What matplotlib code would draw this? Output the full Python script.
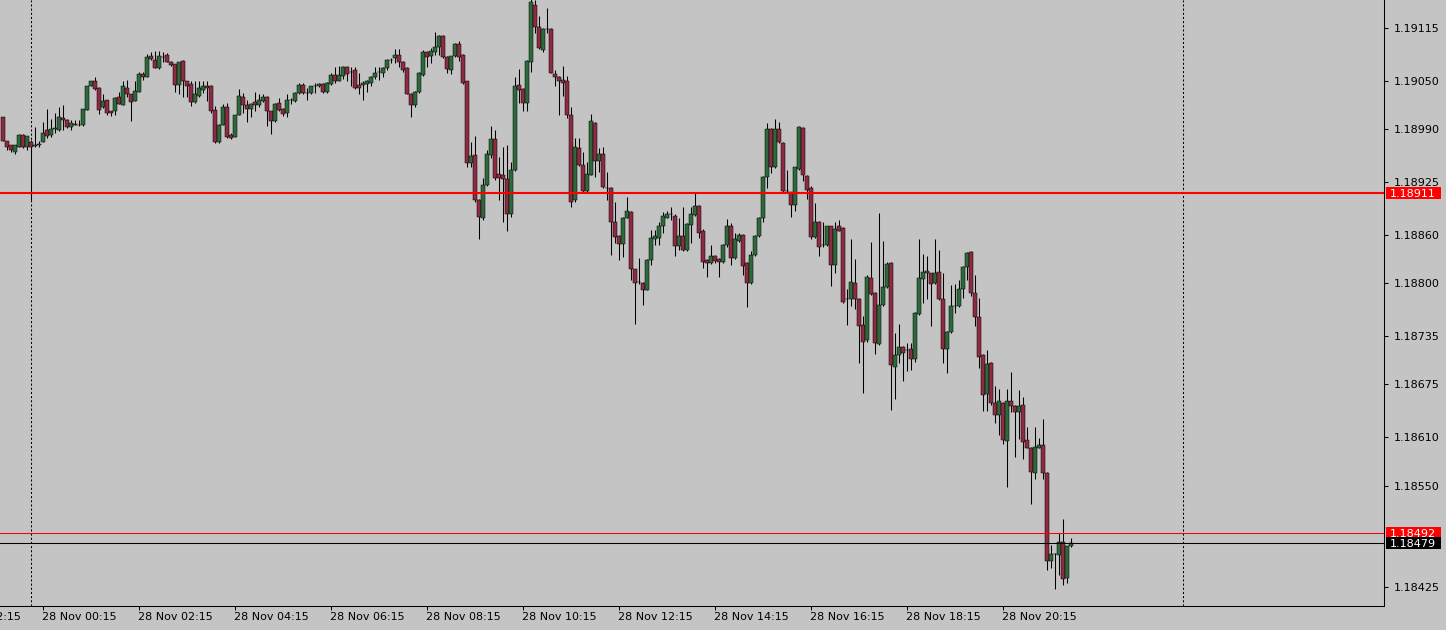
import numpy as np
import pandas as pd
import matplotlib
matplotlib.use("Agg")
import matplotlib.pyplot as plt
import matplotlib.transforms as mtransforms
from matplotlib.patches import Rectangle

BG = "#C4C4C4"
BULL = "#2C6A3C"
BEAR = "#8E2A42"
FONT = "DejaVu Sans"

# EURUSD M5, first bar 27 Nov 23:25
FIRST_BAR = pd.Timestamp("2017-11-27 23:25")
BAR_MINUTES = 5

OPEN = [
    1.19005, 1.18976, 1.18970, 1.18962, 1.18968, 1.18983, 1.18968, 1.18974, 1.18969, 1.18970,
    1.18974, 1.18989, 1.18983, 1.18990, 1.18989, 1.19004, 1.19002, 1.18993, 1.18997, 1.18995,
    1.18995, 1.19014, 1.19043, 1.19049, 1.19041, 1.19017, 1.19026, 1.19013, 1.19013, 1.19030,
    1.19020, 1.19041, 1.19033, 1.19025, 1.19036, 1.19058, 1.19054, 1.19080, 1.19076, 1.19066,
    1.19079, 1.19082, 1.19073, 1.19071, 1.19045, 1.19074, 1.19049, 1.19046, 1.19024, 1.19031,
    1.19039, 1.19044, 1.19044, 1.19014, 1.18974, 1.18995, 1.19017, 1.18983, 1.18981, 1.19008,
    1.19030, 1.19020, 1.19015, 1.19024, 1.19020, 1.19025, 1.19030, 1.19012, 1.19000, 1.19022,
    1.19015, 1.19010, 1.19026, 1.19025, 1.19035, 1.19045, 1.19035, 1.19035, 1.19043, 1.19043,
    1.19046, 1.19036, 1.19046, 1.19057, 1.19050, 1.19056, 1.19067, 1.19061, 1.19063, 1.19045,
    1.19045, 1.19046, 1.19047, 1.19055, 1.19061, 1.19060, 1.19066, 1.19076, 1.19078, 1.19082,
    1.19073, 1.19066, 1.19034, 1.19020, 1.19036, 1.19057, 1.19086, 1.19080, 1.19086, 1.19092,
    1.19105, 1.19079, 1.19063, 1.19080, 1.19095, 1.19082, 1.19049, 1.18948, 1.18958, 1.18903,
    1.18881, 1.18921, 1.18958, 1.18978, 1.18935, 1.18934, 1.18929, 1.18885, 1.18940, 1.19045,
    1.19040, 1.19023, 1.19073, 1.19144, 1.19116, 1.19088, 1.19114, 1.19114, 1.19058, 1.19054,
    1.19051, 1.19049, 1.19008, 1.18903, 1.18967, 1.18946, 1.18914, 1.18934, 1.18998, 1.18951,
    1.18960, 1.18917, 1.18918, 1.18875, 1.18858, 1.18848, 1.18881, 1.18888, 1.18817, 1.18801,
    1.18800, 1.18792, 1.18829, 1.18855, 1.18856, 1.18870, 1.18881, 1.18885, 1.18883, 1.18846,
    1.18858, 1.18841, 1.18872, 1.18884, 1.18895, 1.18864, 1.18829, 1.18825, 1.18834, 1.18830,
    1.18826, 1.18847, 1.18871, 1.18831, 1.18852, 1.18860, 1.18825, 1.18800, 1.18835, 1.18858,
    1.18880, 1.18931, 1.18990, 1.18943, 1.18990, 1.18973, 1.18914, 1.18912, 1.18897, 1.18941,
    1.18992, 1.18932, 1.18917, 1.18857, 1.18876, 1.18847, 1.18847, 1.18870, 1.18823, 1.18870,
    1.18868, 1.18781, 1.18780, 1.18800, 1.18781, 1.18748, 1.18730, 1.18806, 1.18788, 1.18725,
    1.18773, 1.18795, 1.18825, 1.18697, 1.18711, 1.18721, 1.18718, 1.18719, 1.18707, 1.18762,
    1.18805, 1.18815, 1.18812, 1.18800, 1.18814, 1.18781, 1.18719, 1.18740, 1.18772, 1.18772,
    1.18793, 1.18820, 1.18839, 1.18788, 1.18758, 1.18711, 1.18663, 1.18702, 1.18652, 1.18637,
    1.18652, 1.18605, 1.18655, 1.18649, 1.18641, 1.18650, 1.18607, 1.18597, 1.18566, 1.18597,
    1.18600, 1.18566, 1.18457, 1.18466, 1.18465, 1.18481, 1.18436, 1.18475,
]
HIGH = [
    1.19005, 1.18976, 1.18971, 1.18970, 1.18984, 1.18984, 1.18982, 1.18977, 1.18993, 1.18975,
    1.18999, 1.19015, 1.19003, 1.19010, 1.19018, 1.19020, 1.19003, 1.19001, 1.19001, 1.19001,
    1.19015, 1.19043, 1.19050, 1.19054, 1.19042, 1.19033, 1.19026, 1.19013, 1.19030, 1.19036,
    1.19050, 1.19051, 1.19034, 1.19049, 1.19061, 1.19061, 1.19083, 1.19086, 1.19087, 1.19087,
    1.19086, 1.19084, 1.19074, 1.19071, 1.19073, 1.19076, 1.19050, 1.19050, 1.19050, 1.19049,
    1.19049, 1.19049, 1.19045, 1.19019, 1.18996, 1.19021, 1.19022, 1.18985, 1.19008, 1.19040,
    1.19035, 1.19026, 1.19022, 1.19036, 1.19033, 1.19033, 1.19031, 1.19013, 1.19022, 1.19029,
    1.19016, 1.19033, 1.19029, 1.19036, 1.19047, 1.19047, 1.19041, 1.19044, 1.19047, 1.19047,
    1.19047, 1.19048, 1.19059, 1.19067, 1.19068, 1.19068, 1.19068, 1.19067, 1.19067, 1.19059,
    1.19049, 1.19051, 1.19056, 1.19067, 1.19067, 1.19067, 1.19077, 1.19078, 1.19089, 1.19089,
    1.19074, 1.19067, 1.19035, 1.19037, 1.19061, 1.19088, 1.19087, 1.19090, 1.19110, 1.19106,
    1.19106, 1.19080, 1.19081, 1.19096, 1.19099, 1.19083, 1.19050, 1.18974, 1.18982, 1.18904,
    1.18930, 1.18964, 1.18994, 1.18989, 1.18956, 1.18968, 1.18971, 1.18949, 1.19054, 1.19064,
    1.19041, 1.19075, 1.19152, 1.19150, 1.19130, 1.19115, 1.19140, 1.19115, 1.19063, 1.19056,
    1.19068, 1.19056, 1.19017, 1.18979, 1.18979, 1.18962, 1.18949, 1.19009, 1.18999, 1.18967,
    1.18968, 1.18937, 1.18919, 1.18900, 1.18859, 1.18882, 1.18906, 1.18889, 1.18818, 1.18831,
    1.18801, 1.18830, 1.18866, 1.18866, 1.18876, 1.18888, 1.18889, 1.18894, 1.18886, 1.18881,
    1.18894, 1.18874, 1.18894, 1.18912, 1.18896, 1.18867, 1.18830, 1.18847, 1.18835, 1.18831,
    1.18848, 1.18879, 1.18874, 1.18862, 1.18862, 1.18861, 1.18826, 1.18840, 1.18859, 1.18882,
    1.18932, 1.18998, 1.18991, 1.19003, 1.18999, 1.18974, 1.18940, 1.18913, 1.18944, 1.18994,
    1.18993, 1.18933, 1.18920, 1.18899, 1.18877, 1.18875, 1.18871, 1.18871, 1.18875, 1.18878,
    1.18869, 1.18793, 1.18855, 1.18830, 1.18782, 1.18760, 1.18810, 1.18851, 1.18789, 1.18887,
    1.18852, 1.18826, 1.18826, 1.18739, 1.18750, 1.18722, 1.18726, 1.18726, 1.18764, 1.18855,
    1.18836, 1.18834, 1.18813, 1.18855, 1.18841, 1.18812, 1.18741, 1.18798, 1.18799, 1.18804,
    1.18821, 1.18838, 1.18840, 1.18810, 1.18782, 1.18712, 1.18718, 1.18703, 1.18673, 1.18670,
    1.18653, 1.18670, 1.18690, 1.18650, 1.18668, 1.18660, 1.18623, 1.18598, 1.18623, 1.18609,
    1.18632, 1.18567, 1.18477, 1.18467, 1.18492, 1.18509, 1.18476, 1.18486,
]
LOW = [
    1.18975, 1.18964, 1.18962, 1.18960, 1.18968, 1.18967, 1.18964, 1.18903, 1.18968, 1.18968,
    1.18974, 1.18979, 1.18980, 1.18985, 1.18988, 1.18989, 1.18992, 1.18989, 1.18995, 1.18994,
    1.18994, 1.19014, 1.19043, 1.19039, 1.19009, 1.19016, 1.19008, 1.19006, 1.19008, 1.19021,
    1.19020, 1.19030, 1.19000, 1.19025, 1.19036, 1.19051, 1.19054, 1.19076, 1.19066, 1.19065,
    1.19073, 1.19073, 1.19068, 1.19036, 1.19034, 1.19030, 1.19030, 1.19019, 1.19023, 1.19030,
    1.19035, 1.19025, 1.19010, 1.18973, 1.18973, 1.18995, 1.18979, 1.18978, 1.18980, 1.19008,
    1.19010, 1.18999, 1.19005, 1.19012, 1.19017, 1.19024, 1.18994, 1.18984, 1.18999, 1.19013,
    1.19006, 1.19005, 1.19021, 1.19024, 1.19034, 1.19033, 1.19026, 1.19034, 1.19035, 1.19042,
    1.19035, 1.19035, 1.19045, 1.19047, 1.19049, 1.19052, 1.19050, 1.19043, 1.19040, 1.19033,
    1.19026, 1.19036, 1.19044, 1.19052, 1.19051, 1.19055, 1.19063, 1.19072, 1.19072, 1.19067,
    1.19061, 1.19033, 1.19005, 1.19017, 1.19035, 1.19056, 1.19067, 1.19072, 1.19082, 1.19082,
    1.19078, 1.19060, 1.19058, 1.19079, 1.19074, 1.19046, 1.18943, 1.18943, 1.18900, 1.18855,
    1.18878, 1.18920, 1.18955, 1.18927, 1.18903, 1.18875, 1.18864, 1.18882, 1.18939, 1.19023,
    1.19012, 1.19012, 1.19061, 1.19109, 1.19089, 1.19085, 1.19109, 1.19059, 1.19044, 1.19008,
    1.19031, 1.19004, 1.18894, 1.18900, 1.18945, 1.18913, 1.18913, 1.18933, 1.18931, 1.18937,
    1.18918, 1.18903, 1.18835, 1.18850, 1.18829, 1.18832, 1.18880, 1.18804, 1.18750, 1.18799,
    1.18773, 1.18791, 1.18823, 1.18847, 1.18847, 1.18862, 1.18880, 1.18878, 1.18834, 1.18841,
    1.18840, 1.18840, 1.18850, 1.18883, 1.18856, 1.18819, 1.18808, 1.18824, 1.18825, 1.18808,
    1.18825, 1.18845, 1.18823, 1.18830, 1.18851, 1.18810, 1.18771, 1.18799, 1.18834, 1.18857,
    1.18875, 1.18918, 1.18936, 1.18942, 1.18973, 1.18913, 1.18912, 1.18882, 1.18889, 1.18940,
    1.18926, 1.18904, 1.18854, 1.18856, 1.18834, 1.18845, 1.18846, 1.18797, 1.18813, 1.18864,
    1.18775, 1.18749, 1.18772, 1.18768, 1.18702, 1.18665, 1.18728, 1.18786, 1.18713, 1.18724,
    1.18772, 1.18794, 1.18644, 1.18657, 1.18702, 1.18679, 1.18692, 1.18693, 1.18703, 1.18761,
    1.18776, 1.18780, 1.18747, 1.18799, 1.18779, 1.18702, 1.18689, 1.18739, 1.18763, 1.18771,
    1.18782, 1.18804, 1.18784, 1.18747, 1.18695, 1.18642, 1.18642, 1.18650, 1.18627, 1.18612,
    1.18602, 1.18549, 1.18641, 1.18586, 1.18608, 1.18583, 1.18596, 1.18528, 1.18558, 1.18596,
    1.18558, 1.18446, 1.18448, 1.18423, 1.18440, 1.18428, 1.18430, 1.18474,
]
CLOSE = [
    1.18975, 1.18968, 1.18964, 1.18970, 1.18983, 1.18968, 1.18982, 1.18968, 1.18970, 1.18972,
    1.18985, 1.18982, 1.18990, 1.18991, 1.19005, 1.19001, 1.18993, 1.18998, 1.18995, 1.18995,
    1.19015, 1.19043, 1.19049, 1.19040, 1.19014, 1.19025, 1.19010, 1.19010, 1.19029, 1.19021,
    1.19043, 1.19033, 1.19024, 1.19037, 1.19058, 1.19054, 1.19079, 1.19077, 1.19066, 1.19080,
    1.19079, 1.19073, 1.19069, 1.19045, 1.19073, 1.19050, 1.19044, 1.19024, 1.19034, 1.19041,
    1.19043, 1.19041, 1.19013, 1.18974, 1.18995, 1.19017, 1.18981, 1.18979, 1.19008, 1.19031,
    1.19020, 1.19015, 1.19021, 1.19020, 1.19026, 1.19030, 1.19012, 1.19000, 1.19021, 1.19014,
    1.19009, 1.19026, 1.19026, 1.19035, 1.19045, 1.19035, 1.19035, 1.19043, 1.19043, 1.19046,
    1.19036, 1.19047, 1.19057, 1.19050, 1.19057, 1.19067, 1.19058, 1.19061, 1.19041, 1.19041,
    1.19047, 1.19049, 1.19055, 1.19060, 1.19061, 1.19066, 1.19076, 1.19076, 1.19082, 1.19073,
    1.19063, 1.19034, 1.19020, 1.19036, 1.19060, 1.19086, 1.19079, 1.19087, 1.19092, 1.19105,
    1.19079, 1.19064, 1.19080, 1.19095, 1.19079, 1.19047, 1.18948, 1.18957, 1.18903, 1.18882,
    1.18921, 1.18960, 1.18978, 1.18930, 1.18930, 1.18929, 1.18885, 1.18940, 1.19044, 1.19039,
    1.19023, 1.19074, 1.19147, 1.19116, 1.19090, 1.19114, 1.19114, 1.19060, 1.19054, 1.19050,
    1.19047, 1.19008, 1.18900, 1.18968, 1.18946, 1.18914, 1.18935, 1.19000, 1.18951, 1.18960,
    1.18919, 1.18917, 1.18875, 1.18857, 1.18848, 1.18881, 1.18889, 1.18817, 1.18800, 1.18801,
    1.18792, 1.18829, 1.18856, 1.18858, 1.18870, 1.18883, 1.18885, 1.18885, 1.18846, 1.18858,
    1.18841, 1.18873, 1.18885, 1.18895, 1.18862, 1.18826, 1.18825, 1.18834, 1.18827, 1.18826,
    1.18847, 1.18870, 1.18831, 1.18855, 1.18860, 1.18821, 1.18800, 1.18835, 1.18858, 1.18881,
    1.18931, 1.18990, 1.18943, 1.18990, 1.18974, 1.18914, 1.18914, 1.18897, 1.18943, 1.18993,
    1.18933, 1.18915, 1.18857, 1.18876, 1.18845, 1.18847, 1.18870, 1.18823, 1.18867, 1.18865,
    1.18777, 1.18781, 1.18802, 1.18781, 1.18747, 1.18727, 1.18808, 1.18787, 1.18726, 1.18773,
    1.18795, 1.18824, 1.18699, 1.18711, 1.18721, 1.18714, 1.18718, 1.18706, 1.18763, 1.18807,
    1.18814, 1.18812, 1.18799, 1.18812, 1.18780, 1.18719, 1.18740, 1.18772, 1.18772, 1.18793,
    1.18820, 1.18837, 1.18788, 1.18758, 1.18709, 1.18662, 1.18700, 1.18652, 1.18637, 1.18654,
    1.18606, 1.18655, 1.18649, 1.18641, 1.18649, 1.18604, 1.18597, 1.18567, 1.18598, 1.18600,
    1.18566, 1.18457, 1.18466, 1.18466, 1.18481, 1.18435, 1.18475, 1.18479,
]

PRICE_TICKS = [1.19115, 1.19050, 1.18990, 1.18925, 1.18860, 1.18800,
               1.18735, 1.18675, 1.18610, 1.18550, 1.18425]
LEVEL_LINE = 1.18911
ASK = 1.18492
BID = 1.18479

# window geometry in pixels
W, H = 1446, 630
PLOT_W, PLOT_H = 1384, 606
BAR_PX = 4
FIRST_X = 3
Y_TOP, Y_BOTTOM = 1.191496, 1.184015

fig = plt.figure(figsize=(W / 100, H / 100), dpi=100, facecolor=BG)
ax = fig.add_axes([0, (H - PLOT_H) / H, PLOT_W / W, PLOT_H / H], facecolor=BG)

x0 = -FIRST_X / BAR_PX
x1 = x0 + PLOT_W / BAR_PX
ax.set_xlim(x0, x1)
ax.set_ylim(Y_BOTTOM, Y_TOP)

o, h, l, c = (np.array(a) for a in (OPEN, HIGH, LOW, CLOSE))
idx = np.arange(len(o))
body_colors = np.where(c > o, BULL, np.where(c < o, BEAR, "black"))

ax.vlines(idx, l, h, color="black", lw=0.75, zorder=2)
ax.bar(idx, c - o, bottom=o, width=0.78, color=body_colors,
       edgecolor="black", linewidth=0.35, zorder=3)

# time of every slot on the axis, including ones before the first bar
slots = np.arange(int(np.floor(x0)) - 20, int(np.ceil(x1)) + 1)
times = FIRST_BAR + pd.to_timedelta(slots * BAR_MINUTES, unit="min")

# day separators
for s, t in zip(slots, times):
    if t.hour == 0 and t.minute == 0 and x0 < s < x1:
        ax.axvline(s, color="black", lw=0.75, ls=(0, (2, 2)), zorder=1)

ax.axhline(LEVEL_LINE, color="#FF0000", lw=1.5, zorder=5)
ax.axhline(ASK, color="#FF0000", lw=0.75, zorder=5)
ax.axhline(BID, color="black", lw=0.75, zorder=5)

for side in ("left", "top"):
    ax.spines[side].set_visible(False)
for side in ("right", "bottom"):
    ax.spines[side].set_color("black")
    ax.spines[side].set_linewidth(0.75)

# price scale
ax.yaxis.tick_right()
ax.set_yticks(PRICE_TICKS)
ax.set_yticklabels([f"{p:.5f}" for p in PRICE_TICKS], fontsize=8, family=FONT)
ax.tick_params(axis="y", direction="out", length=3, width=0.75, pad=4, colors="black")

# time scale: label every 2 hours at hh:15, only where there is history
last_bar = len(o) - 1
keep = [(s, t) for s, t in zip(slots, times)
        if t.minute == 15 and t.hour % 2 == 0 and s <= last_bar]
ax.set_xticks([s for s, _ in keep if s > x0])
ax.set_xticklabels([])
ax.tick_params(axis="x", direction="out", length=3, width=0.75, colors="black")
for s, t in keep:
    if s < x0 - 30:
        continue
    ax.annotate(t.strftime("%d %b %H:%M"), xy=(s, 0),
                xycoords=("data", "axes fraction"), xytext=(-1, -6),
                textcoords="offset pixels", ha="left", va="top",
                fontsize=8, family=FONT, color="black", annotation_clip=False)

# price tags on the scale
px_per_price = PLOT_H / (Y_TOP - Y_BOTTOM)
tag_tr = mtransforms.blended_transform_factory(ax.transAxes, ax.transData)
for price, fc in ((LEVEL_LINE, "#FF0000"), (ASK, "#FF0000"), (BID, "black")):
    hgt = 12 / px_per_price
    ax.add_patch(Rectangle((1 + 2 / PLOT_W, price - hgt / 2), 55 / PLOT_W, hgt,
                           transform=tag_tr, facecolor=fc, edgecolor="none",
                           clip_on=False, zorder=6))
    ax.text(1 + 6 / PLOT_W, price, f"{price:.5f}", transform=tag_tr,
            ha="left", va="center_baseline", fontsize=8, family=FONT,
            color="white", clip_on=False, zorder=7)

fig.savefig("out.png", dpi=100, facecolor=BG)
